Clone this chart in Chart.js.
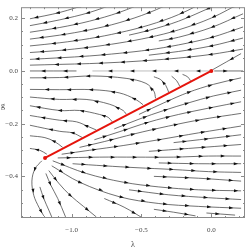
<!DOCTYPE html>
<html>
<head>
<meta charset="utf-8">
<script src="https://cdn.jsdelivr.net/npm/chart.js@4.4.1/dist/chart.umd.min.js"></script>
<style>
  html, body { margin: 0; padding: 0; background: #fff; }
  canvas { display: block; }
</style>
</head>
<body>
<canvas id="flow" width="249" height="248"></canvas>
<script>
// ---- data (λ, g); every stream is listed in flow order ----
const xTicks = [-1.0, -0.5, 0.0];
const yTicks = [-0.4, -0.2, 0.0, 0.2];

const redPath = [[0, 0], [-1.19, -0.33]];

// above g = 0, flowing to the left
const upperStreams = [
    [[-0.872, 0.256], [-1.085, 0.222], [-1.298, 0.198]],
    [[-0.660, 0.262], [-0.872, 0.222], [-1.085, 0.194], [-1.298, 0.172]],
    [[-0.447, 0.267], [-0.660, 0.222], [-0.872, 0.189], [-1.085, 0.165], [-1.298, 0.147]],
    [[-0.234, 0.271], [-0.447, 0.221], [-0.660, 0.183], [-0.872, 0.156], [-1.085, 0.136], [-1.298, 0.121]],
    [[0, 0.275], [-0.234, 0.214], [-0.447, 0.174], [-0.660, 0.145], [-0.872, 0.123], [-1.085, 0.107], [-1.298, 0.095]],
    [[0.227, 0.263], [0, 0.201], [-0.234, 0.156], [-0.447, 0.127], [-0.660, 0.106], [-0.872, 0.090], [-1.085, 0.078], [-1.298, 0.070]],
    [[0.227, 0.167], [0, 0.127], [-0.234, 0.099], [-0.447, 0.080], [-0.660, 0.067], [-0.872, 0.057], [-1.085, 0.050], [-1.298, 0.044]],
    [[0.227, 0.083], [0, 0.063], [-0.234, 0.049], [-0.447, 0.040], [-0.660, 0.033], [-0.872, 0.028], [-1.085, 0.025], [-1.298, 0.022]],
    [[0.050, 0.253], [0, 0.242], [-0.234, 0.189], [-0.447, 0.154], [-0.589, 0.136]],
    [[0.227, 0.217], [0, 0.165], [-0.234, 0.128], [-0.376, 0.114]],
    [[0.227, 0.125], [0, 0.095], [-0.234, 0.074], [-0.447, 0.060]]
];

// on and next to the g = 0 line
const axisGray = [[-0.014, 0], [-0.851, 0]];
const axisStreams = [
    [[-0.965, 0], [-1.298, 0]],
    [[0.021, 0], [0.227, 0]],
    [[0.213, 0.066], [0.007, 0.004]]
];

// between g = 0 and the red line: up from the line, then off to the left
const wedgeStreams = [
    [[-0.399, -0.104], [-0.411, -0.077], [-0.468, -0.047], [-0.610, -0.028], [-0.851, -0.019], [-1.085, -0.025], [-1.298, -0.026]],
    [[-0.489, -0.128], [-0.541, -0.108], [-0.660, -0.083], [-0.851, -0.071], [-1.085, -0.071], [-1.298, -0.070]],
    [[-0.610, -0.163], [-0.631, -0.150], [-0.730, -0.126], [-0.896, -0.108], [-1.085, -0.108], [-1.298, -0.099]],
    [[-0.709, -0.193], [-0.738, -0.176], [-0.801, -0.165], [-0.943, -0.150], [-1.085, -0.150], [-1.298, -0.132]],
    [[-0.823, -0.224], [-0.872, -0.213], [-0.965, -0.193], [-1.085, -0.187], [-1.298, -0.169]],
    [[-0.922, -0.253], [-0.993, -0.235], [-1.085, -0.229], [-1.298, -0.206]],
    [[-1.064, -0.290], [-1.121, -0.268], [-1.191, -0.253], [-1.298, -0.246]],
    [[-1.177, -0.316], [-1.227, -0.301], [-1.298, -0.294]],
    [[-0.305, -0.081], [-0.326, -0.055], [-0.362, -0.033], [-0.411, -0.022]],
    [[-0.227, -0.057], [-0.248, -0.037], [-0.284, -0.020]],
    [[-0.149, -0.037], [-0.170, -0.022], [-0.206, -0.013]]
];

// below the red line, fanning out to the right
const lowerStreams = [
    [[-0.518, -0.165], [-0.340, -0.121], [-0.163, -0.081], [0.014, -0.051], [0.213, -0.026]],
    [[-0.695, -0.220], [-0.518, -0.183], [-0.340, -0.150], [-0.163, -0.121], [0.014, -0.095], [0.213, -0.073]],
    [[-0.837, -0.261], [-0.660, -0.231], [-0.447, -0.194], [-0.234, -0.165], [0, -0.139], [0.213, -0.117]],
    [[-0.943, -0.290], [-0.766, -0.268], [-0.553, -0.239], [-0.305, -0.209], [-0.057, -0.183], [0.213, -0.161]],
    [[-1.071, -0.316], [-0.872, -0.301], [-0.631, -0.283], [-0.376, -0.261], [-0.092, -0.235], [0.213, -0.209]],
    [[-0.270, -0.272], [-0.021, -0.257], [0.213, -0.242]],
    [[-0.447, -0.305], [-0.163, -0.294], [0.213, -0.279]],
    [[-1.099, -0.330], [-0.801, -0.327], [-0.539, -0.327], [-0.270, -0.327], [-0.021, -0.323], [0.213, -0.323]],
    [[-0.376, -0.349], [-0.092, -0.352], [0.213, -0.352]],
    [[-0.993, -0.352], [-0.766, -0.360], [-0.539, -0.367], [-0.270, -0.374], [-0.021, -0.382], [0.213, -0.385]],
    [[-0.411, -0.400], [-0.092, -0.407], [0.213, -0.418]],
    [[-1.135, -0.341], [-0.894, -0.389], [-0.631, -0.422], [-0.376, -0.440], [-0.092, -0.451], [0.213, -0.455]],
    [[-0.589, -0.451], [-0.305, -0.470], [-0.021, -0.481], [0.213, -0.488]],
    [[-1.142, -0.360], [-0.943, -0.422], [-0.660, -0.477], [-0.376, -0.503], [-0.092, -0.514], [0.213, -0.521]],
    [[-0.766, -0.484], [-0.624, -0.517], [-0.482, -0.561]],
    [[-0.411, -0.525], [-0.270, -0.536], [-0.113, -0.550]],
    [[-0.035, -0.539], [0.170, -0.547]],
    [[-1.163, -0.378], [-1.092, -0.426], [-1.014, -0.470], [-0.915, -0.514], [-0.823, -0.554]],
    [[-1.184, -0.389], [-1.149, -0.433], [-1.099, -0.484], [-1.043, -0.554]],
    [[-1.227, -0.440], [-1.199, -0.484], [-1.163, -0.528], [-1.142, -0.554]],
    [[-1.213, -0.341], [-1.262, -0.371], [-1.284, -0.418], [-1.270, -0.473], [-1.234, -0.517], [-1.199, -0.550]]
];

// ---- styling ----
const SERIF = "'Liberation Serif', 'Times New Roman', serif";
const TEXT = '#444';
const FRAME = '#8a8a8a';
const STREAM = '#333';

const toXY = pts => pts.map(p => ({ x: p[0], y: p[1] }));
const fmt = v => (v < 0 ? '\u2212' : '') + Math.abs(v).toFixed(1);

function streamSet(pts, color) {
    return {
        data: toXY(pts),
        stream: true,
        showLine: true,
        borderColor: color || STREAM,
        borderWidth: 0.7,
        tension: 0.35,
        pointRadius: 0,
        fill: false
    };
}

const datasets = [{
    data: toXY(redPath),
    showLine: true,
    borderColor: '#e5140c',
    borderWidth: 2,
    pointRadius: 2,
    pointBackgroundColor: '#e5140c',
    pointBorderWidth: 0
}];
upperStreams.concat(wedgeStreams, lowerStreams, axisStreams)
    .forEach(s => datasets.push(streamSet(s)));
datasets.push(streamSet(axisGray, '#a0a0a0'));

// small filled arrowheads spaced along each stream
const arrowPlugin = {
    id: 'arrowHeads',
    afterDatasetDraw(chart, args) {
        const ds = chart.data.datasets[args.index];
        if (!ds.stream) return;
        const pts = args.meta.data;
        const a = chart.chartArea;
        const ctx = chart.ctx;
        let total = 0;
        for (let i = 1; i < pts.length; i++) total += Math.hypot(pts[i].x - pts[i - 1].x, pts[i].y - pts[i - 1].y);

        ctx.save();
        ctx.beginPath();
        ctx.rect(a.left, a.top, a.right - a.left, a.bottom - a.top);
        ctx.clip();
        ctx.fillStyle = '#111';
        let next = 11, walked = 0;
        for (let i = 1; i < pts.length; i++) {
            const p = pts[i - 1], q = pts[i];
            const dx = q.x - p.x, dy = q.y - p.y, len = Math.hypot(dx, dy);
            while (next <= walked + len && next < total - 5) {
                const t = (next - walked) / len;
                const x = p.x + dx * t, y = p.y + dy * t, ang = Math.atan2(dy, dx);
                ctx.save();
                ctx.translate(x, y);
                ctx.rotate(ang);
                ctx.beginPath();
                ctx.moveTo(2.3, 0);
                ctx.lineTo(-2, -1.5);
                ctx.lineTo(-2, 1.5);
                ctx.closePath();
                ctx.fill();
                ctx.restore();
                next += 22;
            }
            walked += len;
        }
        ctx.restore();
    }
};

// Mathematica-style frame with inward ticks, plus the axis letters
const framePlugin = {
    id: 'frame',
    afterDraw(chart) {
        const { ctx, chartArea: a, scales: { x, y } } = chart;
        ctx.save();
        ctx.strokeStyle = FRAME;
        ctx.lineWidth = 1;
        ctx.strokeRect(a.left + 0.5, a.top + 0.5, a.right - a.left - 1, a.bottom - a.top - 1);

        ctx.beginPath();
        for (let v = -1.3; v <= 0.2001; v += 0.1) {
            const major = xTicks.some(t => Math.abs(t - v) < 1e-6);
            const len = major ? 4 : 2;
            const px = Math.round(x.getPixelForValue(v)) + 0.5;
            ctx.moveTo(px, a.bottom); ctx.lineTo(px, a.bottom - len);
            ctx.moveTo(px, a.top); ctx.lineTo(px, a.top + len);
        }
        for (let v = -0.55; v <= 0.2001; v += 0.05) {
            const major = yTicks.some(t => Math.abs(t - v) < 1e-6);
            const len = major ? 4 : 2;
            const py = Math.round(y.getPixelForValue(v)) + 0.5;
            ctx.moveTo(a.left, py); ctx.lineTo(a.left + len, py);
            ctx.moveTo(a.right, py); ctx.lineTo(a.right - len, py);
        }
        ctx.stroke();

        ctx.fillStyle = TEXT;
        ctx.font = '8px ' + SERIF;
        ctx.textAlign = 'center';
        ctx.textBaseline = 'middle';
        ctx.fillText('\u03bb', (a.left + a.right) / 2, a.bottom + 27);
        ctx.fillText('g', 3, 106);
        ctx.restore();
    }
};

new Chart(document.getElementById('flow'), {
    type: 'scatter',
    data: { datasets },
    options: {
        responsive: false,
        animation: false,
        events: [],
        layout: { padding: { left: 0, right: 2, top: 0, bottom: 0 } },
        plugins: { legend: { display: false }, tooltip: { enabled: false } },
        scales: {
            x: {
                type: 'linear',
                min: -1.362,
                max: 0.241,
                afterFit: s => { s.height = 30; },
                afterBuildTicks: s => { s.ticks = xTicks.map(v => ({ value: v })); },
                grid: { display: false, drawTicks: false },
                border: { display: false },
                ticks: { font: { family: SERIF, size: 7 }, color: TEXT, padding: 8, maxRotation: 0, autoSkip: false, callback: v => fmt(v) }
            },
            y: {
                type: 'linear',
                min: -0.558,
                max: 0.242,
                afterFit: s => { s.width = 21; },
                afterBuildTicks: s => { s.ticks = yTicks.map(v => ({ value: v })); },
                grid: { display: false, drawTicks: false },
                border: { display: false },
                ticks: { font: { family: SERIF, size: 7 }, color: TEXT, padding: 3, autoSkip: false, callback: v => fmt(v) }
            }
        }
    },
    plugins: [arrowPlugin, framePlugin]
});
</script>
</body>
</html>
